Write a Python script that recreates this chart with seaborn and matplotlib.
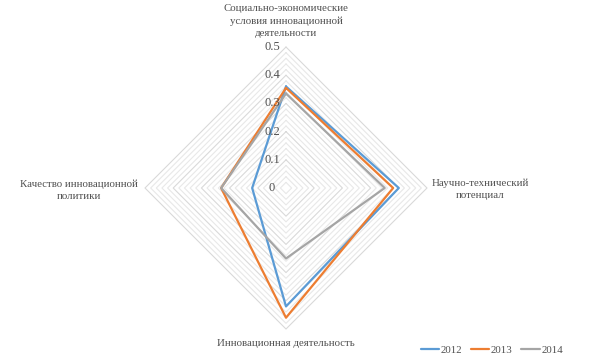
import numpy as np
import pandas as pd
import matplotlib
matplotlib.use("Agg")
import matplotlib.pyplot as plt
import seaborn as sns

categories = [
    "Социально-экономические\nусловия инновационной\nдеятельности",
    "Научно-технический\nпотенциал",
    "Инновационная деятельность",
    "Качество инновационной\nполитики",
]
years = ["2012", "2013", "2014"]
v2012 = [0.36, 0.40, 0.42, 0.12]
v2013 = [0.355, 0.38, 0.46, 0.23]
v2014 = [0.335, 0.35, 0.25, 0.23]
tick_values = [0, 0.1, 0.2, 0.3, 0.4, 0.5]
tick_labels = ["0", "0.1", "0.2", "0.3", "0.4", "0.5"]
colors = ["#5B9BD5", "#ED7D31", "#A5A5A5"]

sns.set_theme(style="white")
plt.rcParams["font.family"] = ["Liberation Serif", "DejaVu Serif"]
txt_color = "#505050"

# angles clockwise from top
angles = np.array([0, 0.5, 1.0, 1.5]) * np.pi
dx = np.sin(angles)
dy = np.cos(angles)

PX = 282.0  # pixels per data unit
fig = plt.figure(figsize=(6, 3.59), dpi=100)
ax = fig.add_axes([0, 0, 1, 1])

def px2x(p):
    return (p - 286) / PX

def py2y(p):
    return (188 - p) / PX

# polygon grid
for i in range(1, 26):
    r = i * 0.02
    xs = np.append(r * dx, r * dx[0])
    ys = np.append(r * dy, r * dy[0])
    major = (i % 5 == 0)
    ax.plot(xs, ys, color="#D9D9D9" if major else "#E8E8E8", lw=0.8, zorder=1)

rows = []
for y, vals in zip(years, [v2012, v2013, v2014]):
    vv = list(vals) + [vals[0]]
    for k, v in enumerate(vv):
        a = k % 4
        rows.append({"year": y, "order": k, "x": v * dx[a], "y": v * dy[a]})
df = pd.DataFrame(rows)

sns.lineplot(data=df, x="x", y="y", hue="year", palette=colors, sort=False,
             estimator=None, lw=1.6, ax=ax, zorder=3)

ax.set_xlim(px2x(0), px2x(600))
ax.set_ylim(py2y(359), py2y(0))
ax.axis("off")

for v, lab in zip(tick_values, tick_labels):
    ax.text(px2x(272), v, lab, ha="center", va="center", fontsize=9,
            color=txt_color)

fs = 7.8
ax.text(0, py2y(21), categories[0], ha="center", va="center", fontsize=fs,
        color=txt_color, linespacing=1.45)
ax.text(px2x(480), py2y(189), categories[1], ha="center", va="center",
        fontsize=fs, color=txt_color, linespacing=1.45)
ax.text(0, py2y(344), categories[2], ha="center", va="center",
        fontsize=fs, color=txt_color)
ax.text(px2x(79), py2y(190), categories[3], ha="center", va="center",
        fontsize=fs, color=txt_color, linespacing=1.45)

sns.move_legend(ax, loc="center right", bbox_to_anchor=(573 / 600, 9 / 359),
                ncol=3, frameon=False, title=None, fontsize=7.8,
                handlelength=1.7, handletextpad=0.15, columnspacing=0.8)
for t in ax.get_legend().get_texts():
    t.set_color(txt_color)

fig.savefig("out.png", dpi=100)
